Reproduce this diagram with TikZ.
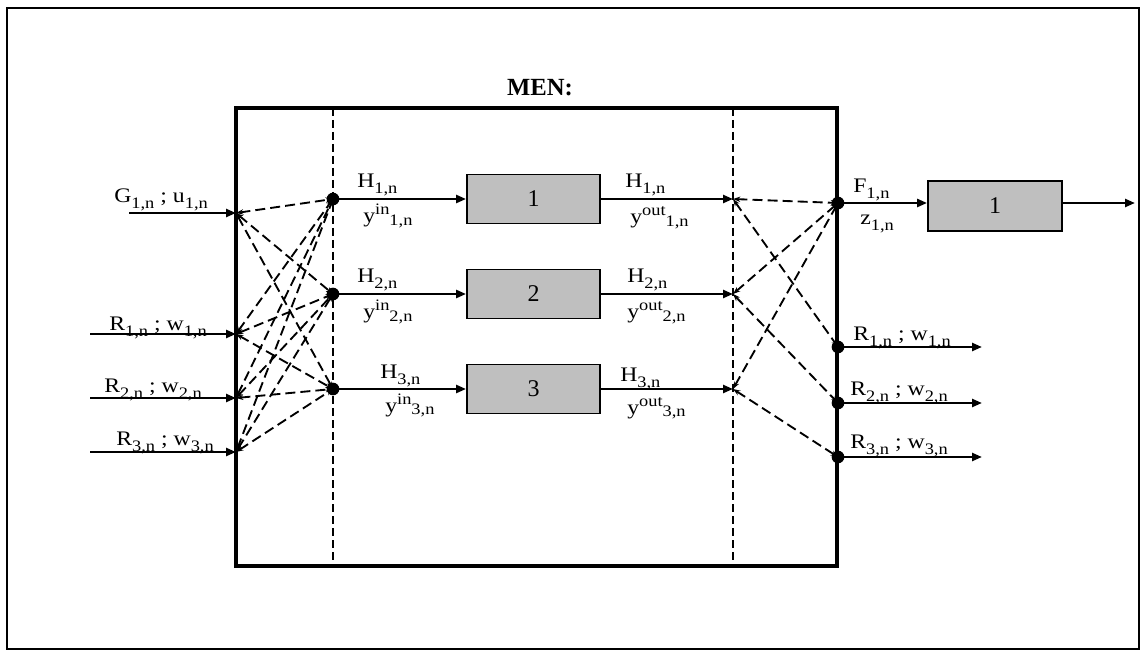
\documentclass[tikz,border=0pt]{standalone}
\usepackage{fontspec}
\setmainfont{Liberation Serif}
\newfontfamily\lblfont[FakeStretch=1.15]{Liberation Serif}
\usetikzlibrary{arrows.meta}

% lowered / raised index text
\newcommand\lo[1]{\raisebox{-4.5pt}{\fontsize{12}{13}\selectfont #1}}
\newcommand\loy[1]{\raisebox{-2pt}{\fontsize{12}{13}\selectfont #1}}
\newcommand\hi[1]{\raisebox{6pt}{\fontsize{12}{13}\selectfont #1}}

\begin{document}
\begin{tikzpicture}[x=0.75pt,y=-0.75pt,
  lbl/.style={inner sep=0pt, anchor=base west, font=\lblfont\fontsize{15.5}{18}\selectfont},
  flow/.style={line width=1.8pt, -{Triangle[length=7.5pt,width=6pt]}},
  link/.style={line width=1.4pt, dash pattern=on 7.5pt off 3.8pt,
    {Stealth[length=5.5pt,width=4pt]}-{Stealth[length=5.5pt,width=4pt]}},
  divider/.style={line width=1pt, dash pattern=on 6pt off 3pt},
  proc/.style={draw, line width=1.4pt, fill=black!25, inner sep=0pt,
    minimum width=99.75pt, minimum height=36.75pt, font=\fontsize{18}{20}\selectfont},
  dot/.style={circle, fill=black, inner sep=0pt, minimum size=9.5pt}
]
\useasboundingbox (0,0) rectangle (1142,652);
\draw[line width=1.6pt] (7,8) rectangle (1139,649);

% title and main block
\node[font=\bfseries\fontsize{18.5}{20}\selectfont, inner sep=0pt] (title) at (540,88) {MEN:};
\node[draw, line width=2.8pt, inner sep=0pt, minimum width=450.75pt, minimum height=343.5pt]
  (men) at (536.5,337) {};

% internal dividers
\coordinate (dlt) at (333,108); \coordinate (dlb) at (333,566);
\coordinate (drt) at (733,108); \coordinate (drb) at (733,566);
\draw[divider] (dlt) -- (dlb);
\draw[divider] (drt) -- (drb);

% inputs
\coordinate (gs) at (129,213);  \coordinate (gin) at (236,213);
\coordinate (r1s) at (90,334);  \coordinate (rin1) at (236,334);
\coordinate (r2s) at (90,398);  \coordinate (rin2) at (236,398);
\coordinate (r3s) at (90,452);  \coordinate (rin3) at (236,452);
\draw[flow] (gs) -- (gin);
\draw[flow] (r1s) -- (rin1);
\draw[flow] (r2s) -- (rin2);
\draw[flow] (r3s) -- (rin3);

% distribution points
\coordinate (h1) at (333,199);
\coordinate (h2) at (333,294);
\coordinate (h3) at (333,389);

% processing blocks
\node[proc] (b1) at (533.5,199) {1};
\node[proc] (b2) at (533.5,294) {2};
\node[proc] (b3) at (533.5,389) {3};
\draw[flow] (h1) -- (b1.west);
\draw[flow] (h2) -- (b2.west);
\draw[flow] (h3) -- (b3.west);

\coordinate (o1) at (733,199);
\coordinate (o2) at (733,294);
\coordinate (o3) at (733,389);
\draw[flow] (b1.east) -- (o1);
\draw[flow] (b2.east) -- (o2);
\draw[flow] (b3.east) -- (o3);

% collecting points
\coordinate (f) at (838,203);
\coordinate (q1) at (838,347);
\coordinate (q2) at (838,403);
\coordinate (q3) at (838,457);
\coordinate (e1) at (982,347);
\coordinate (e2) at (982,403);
\coordinate (e3) at (982,457);
\draw[flow] (q1) -- (e1);
\draw[flow] (q2) -- (e2);
\draw[flow] (q3) -- (e3);

\node[proc, minimum width=100.5pt, minimum height=37.5pt] (fb) at (995,206) {1};
\coordinate (fe) at (1135,203);
\draw[flow] (f) -- (fb.west |- f);
\draw[flow] (fb.east |- f) -- (fe);

% dashed couplings
\foreach \a in {gin,rin1,rin2,rin3}
  \foreach \b in {h1,h2,h3}
    \draw[link] (\a) -- (\b);
\foreach \a/\b in {o1/q1,o2/q2,o3/q3}
  \draw[link] (\a) -- (\b);
\foreach \a in {o1,o2,o3}
  \draw[link] (\a) -- (f);

% junction dots
\foreach \p in {h1,h2,h3,f,q1,q2,q3}
  \node[dot] (d\p) at (\p) {};

% labels
\node[lbl] (lg)  at (114,203) {G\lo{1,n} ; u\lo{1,n}};
\node[lbl] (lr1) at (109,330) {R\lo{1,n} ; w\lo{1,n}};
\node[lbl] (lr2) at (104,392) {R\lo{2,n} ; w\lo{2,n}};
\node[lbl] (lr3) at (116,445) {R\lo{3,n} ; w\lo{3,n}};

\node[lbl] (hi1) at (357,188) {H\lo{1,n}};
\node[lbl] (yi1) at (363,223) {y\hi{in}\loy{1,n}};
\node[lbl] (hi2) at (357,283) {H\lo{2,n}};
\node[lbl] (yi2) at (363,319) {y\hi{in}\loy{2,n}};
\node[lbl] (hi3) at (380,378) {H\lo{3,n}};
\node[lbl] (yi3) at (385,412) {y\hi{in}\loy{3,n}};

\node[lbl] (ho1) at (625,188) {H\lo{1,n}};
\node[lbl] (yo1) at (630,224) {y\hi{out}\loy{1,n}};
\node[lbl] (ho2) at (627,283) {H\lo{2,n}};
\node[lbl] (yo2) at (627,319) {y\hi{out}\loy{2,n}};
\node[lbl] (ho3) at (620,381) {H\lo{3,n}};
\node[lbl] (yo3) at (627,414) {y\hi{out}\loy{3,n}};

\node[lbl] (lf) at (853,193) {F\lo{1,n}};
\node[lbl] (lz) at (860,225) {z\lo{1,n}};
\node[lbl] (lq1) at (853,340) {R\lo{1,n} ; w\lo{1,n}};
\node[lbl] (lq2) at (850,395) {R\lo{2,n} ; w\lo{2,n}};
\node[lbl] (lq3) at (850,448) {R\lo{3,n} ; w\lo{3,n}};
\end{tikzpicture}
\end{document}
